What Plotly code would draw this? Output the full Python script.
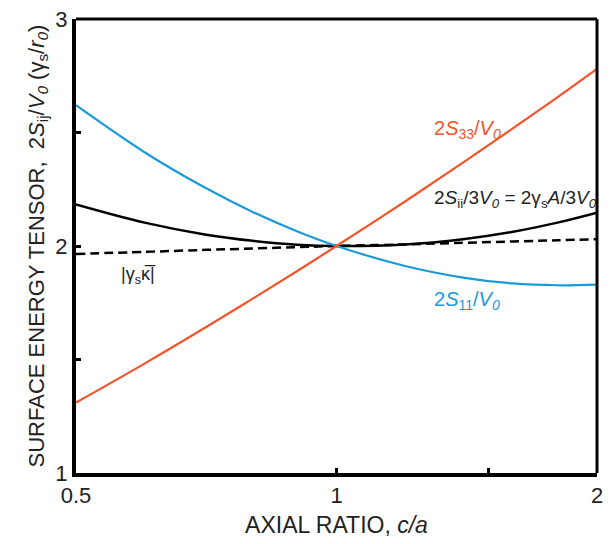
import math
import plotly.graph_objects as go

# Axial ratio c/a of the spheroid (log axis)
axial_ratio = [0.5, 0.6, 0.707, 0.8, 0.9, 1.0, 1.2, 1.4, 1.6, 1.8, 2.0]

# Surface energy tensor components, in units of gamma_s / r_0
s33 = [1.31, 1.482, 1.643, 1.768, 1.889, 2.0, 2.196, 2.367, 2.519, 2.655, 2.78]
s11 = [2.62, 2.413, 2.254, 2.150, 2.065, 2.0, 1.912, 1.861, 1.835, 1.827, 1.83]
trace_avg = [2.183, 2.103, 2.050, 2.023, 2.006, 2.0, 2.007, 2.030, 2.063, 2.103, 2.147]
mean_curv = [1.965, 1.974, 1.983, 1.989, 1.995, 2.0, 2.007, 2.014, 2.020, 2.025, 2.03]

x_ticks = [0.5, 1, 2]
x_ticktext = ["0.5", "1", "2"]
y_ticks = [1, 2, 3]
y_ticktext = ["1", "2", "3"]

ORANGE = "#F2552C"
BLUE = "#1B9AD8"
FONT = "Liberation Sans, Arial, sans-serif"
TXT = "#222222"

fig = go.Figure()
fig.add_trace(go.Scatter(x=axial_ratio, y=mean_curv, mode="lines",
                         line=dict(color="black", width=2.5, dash="9px,5px"),
                         line_shape="spline", hoverinfo="skip"))
fig.add_trace(go.Scatter(x=axial_ratio, y=trace_avg, mode="lines",
                         line=dict(color="black", width=2.5),
                         line_shape="spline", hoverinfo="skip"))
fig.add_trace(go.Scatter(x=axial_ratio, y=s11, mode="lines",
                         line=dict(color=BLUE, width=2.2),
                         line_shape="spline", hoverinfo="skip"))
fig.add_trace(go.Scatter(x=axial_ratio, y=s33, mode="lines",
                         line=dict(color=ORANGE, width=2.2),
                         line_shape="spline", hoverinfo="skip"))

lbl_x = math.log10(1.29)
fig.add_annotation(x=lbl_x, y=2.513, xref="x", yref="y", xanchor="left",
                   text="2<i>S</i><sub>33</sub>/<i>V<sub>0</sub></i>",
                   showarrow=False, font=dict(family=FONT, size=20, color=ORANGE))
fig.add_annotation(x=lbl_x, y=2.209, xref="x", yref="y", xanchor="left",
                   text="2<i>S</i><sub>ii</sub>/3<i>V<sub>0</sub></i> = 2γ<sub>s</sub><i>A</i>/3<i>V<sub>0</sub></i>",
                   showarrow=False, font=dict(family=FONT, size=19, color=TXT))
fig.add_annotation(x=lbl_x, y=1.761, xref="x", yref="y", xanchor="left",
                   text="2<i>S</i><sub>11</sub>/<i>V<sub>0</sub></i>",
                   showarrow=False, font=dict(family=FONT, size=20, color=BLUE))
fig.add_annotation(x=math.log10(0.56), y=1.87, xref="x", yref="y", xanchor="left",
                   text="|γ<sub>s</sub>κ\u0305|",
                   showarrow=False, font=dict(family=FONT, size=18, color=TXT))

# top and right frame edges (slightly thinner than the axes)
fig.add_shape(type="line", xref="paper", yref="paper", x0=0, x1=1, y0=1, y1=1,
              line=dict(color="black", width=3))
fig.add_shape(type="line", xref="paper", yref="paper", x0=1, x1=1, y0=0, y1=1,
              line=dict(color="black", width=3))

fig.update_layout(
    width=610, height=544,
    margin=dict(l=76, r=7, t=14, b=71),
    paper_bgcolor="white", plot_bgcolor="white",
    showlegend=False,
    font=dict(family=FONT, color=TXT),
    xaxis=dict(
        type="log", range=[math.log10(0.5), math.log10(2)],
        tickvals=x_ticks, ticktext=x_ticktext,
        ticks="inside", ticklen=5, tickwidth=3, tickcolor="black",
        minor=dict(tickvals=[1.5], ticks="inside", ticklen=5, tickwidth=3, tickcolor="black"),
        showgrid=False, zeroline=False,
        showline=True, linewidth=4, linecolor="black",
        tickfont=dict(size=22, color=TXT),
        ticklabeloverflow="allow",
        title=dict(text="AXIAL RATIO, <i>c/a</i>", font=dict(size=23, color=TXT), standoff=10),
    ),
    yaxis=dict(
        range=[1, 3],
        tickvals=y_ticks, ticktext=y_ticktext,
        ticks="inside", ticklen=5, tickwidth=3, tickcolor="black",
        minor=dict(tickvals=[1.5, 2.5], ticks="inside", ticklen=5, tickwidth=3, tickcolor="black"),
        showgrid=False, zeroline=False,
        showline=True, linewidth=4, linecolor="black",
        tickfont=dict(size=22, color=TXT),
        ticklabeloverflow="allow",
        title=dict(text="SURFACE ENERGY TENSOR,\u00a0 2<i>S</i><sub>ij</sub>/<i>V<sub>0</sub></i> (γ<sub>s</sub>/<i>r<sub>0</sub></i>)",
                   font=dict(size=22, color=TXT), standoff=6),
    ),
)

fig.write_html("out.html")
